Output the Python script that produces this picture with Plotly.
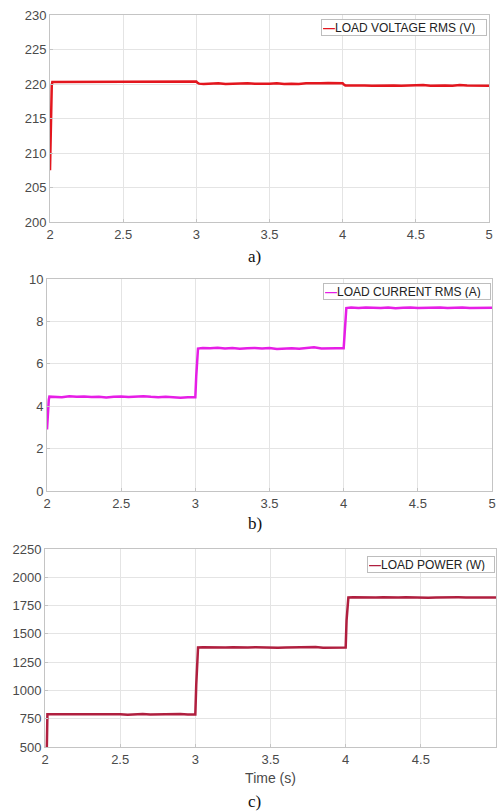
import plotly.graph_objects as go

# ---------------- data ----------------
time_s = [2.000, 2.004, 2.008, 2.012, 2.016, 2.05, 2.10, 2.15, 2.20, 2.25, 2.30, 2.35,
          2.40, 2.45, 2.50, 2.55, 2.60, 2.65, 2.70, 2.75, 2.80, 2.85, 2.90, 2.95,
          3.000, 3.006, 3.012, 3.018, 3.05, 3.10, 3.15, 3.20, 3.25, 3.30, 3.35, 3.40,
          3.45, 3.50, 3.55, 3.60, 3.65, 3.70, 3.75, 3.80, 3.85, 3.90, 3.95,
          4.000, 4.006, 4.012, 4.018, 4.05, 4.10, 4.15, 4.20, 4.25, 4.30, 4.35, 4.40,
          4.45, 4.50, 4.55, 4.60, 4.65, 4.70, 4.75, 4.80, 4.85, 4.90, 4.95, 5.00]

voltage_rms = [207.5, 214.0, 218.0, 219.8, 220.3,
               220.3, 220.4, 220.3, 220.35, 220.4, 220.3, 220.35, 220.3, 220.4, 220.35,
               220.3, 220.35, 220.4, 220.3, 220.35, 220.4, 220.3, 220.35, 220.4,
               220.35, 220.2, 220.1, 220.05,
               220.0, 220.05, 220.1, 220.0, 220.05, 220.0, 220.1, 220.05, 220.0, 220.05,
               220.1, 220.0, 220.05, 220.0, 220.1, 220.05, 220.1, 220.15, 220.1,
               220.1, 219.95, 219.85, 219.8,
               219.8, 219.85, 219.8, 219.75, 219.8, 219.85, 219.8, 219.75, 219.8, 219.8,
               219.85, 219.75, 219.8, 219.8, 219.75, 219.85, 219.8, 219.75, 219.8, 219.75]

current_rms = [2.9, 3.7, 4.05, 4.3, 4.45,
               4.45, 4.42, 4.47, 4.44, 4.46, 4.43, 4.45, 4.41, 4.44, 4.46,
               4.43, 4.45, 4.47, 4.44, 4.42, 4.45, 4.43, 4.40, 4.42,
               4.42, 5.4, 6.3, 6.72,
               6.75, 6.73, 6.76, 6.72, 6.74, 6.71, 6.73, 6.75, 6.72, 6.74,
               6.70, 6.72, 6.73, 6.71, 6.74, 6.78, 6.72, 6.74, 6.73,
               6.73, 7.6, 8.3, 8.63,
               8.65, 8.63, 8.66, 8.64, 8.63, 8.65, 8.62, 8.64, 8.66, 8.63,
               8.64, 8.62, 8.65, 8.63, 8.64, 8.66, 8.63, 8.64, 8.65, 8.64]

power_w = [200, 300, 400, 480, 790,
           790, 788, 792, 789, 791, 787, 790, 793, 788, 790,
           786, 789, 791, 788, 790, 787, 789, 791, 788,
           788, 1050, 1280, 1380,
           1382, 1380, 1383, 1379, 1381, 1378, 1380, 1382, 1379, 1381,
           1377, 1380, 1382, 1379, 1381, 1383, 1378, 1380, 1381,
           1380, 1620, 1760, 1822,
           1824, 1822, 1825, 1821, 1823, 1820, 1822, 1824, 1821, 1823,
           1820, 1822, 1824, 1821, 1823, 1822, 1820, 1823, 1822, 1821]

x_ticks = [2, 2.5, 3, 3.5, 4, 4.5, 5]
x_ticklabels = ["2", "2.5", "3", "3.5", "4", "4.5", "5"]
v_ticks = [200, 205, 210, 215, 220, 225, 230]
i_ticks = [0, 2, 4, 6, 8, 10]
p_ticks = [500, 750, 1000, 1250, 1500, 1750, 2000, 2250]

names = ["LOAD VOLTAGE RMS (V)", "LOAD CURRENT RMS (A)", "LOAD POWER (W)"]
captions = ["a)", "b)", "c)"]

# ---------------- layout geometry ----------------
W, H = 497, 812
panels = [  # (left px, right px, top px, bottom px)
    (50, 489, 15, 222),
    (47, 492, 279, 491),
    (45, 496, 549, 747),
]
colors = ["#e3161e", "#e61ee6", "#b01f3f"]
series = [voltage_rms, current_rms, power_w]
yranges = [[200, 230], [0, 10], [500, 2250]]
yticks = [v_ticks, i_ticks, p_ticks]
# legend boxes: (left, right, top) in px
legend_box = [(321, 487, 19), (323, 491, 283), (367, 495, 556)]
caption_y = [256, 523, 801]

fig = go.Figure()
sans = "Liberation Sans, Arial, sans-serif"
tick_font = dict(family=sans, size=13, color="#4a4a4a")

for k in range(3):
    suffix = "" if k == 0 else str(k + 1)
    fig.add_trace(go.Scatter(
        x=time_s, y=series[k], mode="lines", name=names[k],
        line=dict(color=colors[k], width=2.5),
        xaxis="x" + suffix, yaxis="y" + suffix,
        showlegend=False,
    ))
    l, r, t, b = panels[k]
    axis_common = dict(
        showline=True, mirror=True, linecolor="#c4c4c4", linewidth=1,
        showgrid=True, gridcolor="#e4e4e4", gridwidth=1,
        zeroline=False, ticks="inside", ticklen=3, tickcolor="#c4c4c4",
        tickfont=tick_font, automargin=False,
    )
    xa = dict(axis_common, domain=[l / W, r / W], range=[2, 5],
              tickvals=x_ticks, ticktext=x_ticklabels,
              anchor="y" + suffix)
    if k == 2:
        xa["title"] = dict(text="Time (s)", standoff=7,
                           font=dict(family=sans, size=14, color="#4a4a4a"))
    ya = dict(axis_common, domain=[1 - b / H, 1 - t / H], range=yranges[k],
              tickvals=yticks[k], anchor="x" + suffix)
    fig.update_layout({"xaxis" + suffix: xa, "yaxis" + suffix: ya})

    # legend box for this panel
    bl, br, bt = legend_box[k]
    fig.add_annotation(
        text='<span style="color:%s"><b>—</b></span>%s' % (colors[k], names[k]),
        x=br / W, y=1 - bt / H, xref="paper", yref="paper",
        xanchor="right", yanchor="top", showarrow=False,
        width=br - bl - 4, height=13, align="left", valign="middle",
        bgcolor="white", bordercolor="#bdbdbd", borderwidth=1, borderpad=1,
        font=dict(family=sans, size=12, color="#222222"),
    )

    fig.add_annotation(
        text=captions[k], x=0.513, y=1 - caption_y[k] / H, xref="paper", yref="paper",
        showarrow=False, xanchor="center", yanchor="middle",
        font=dict(family="Liberation Serif, Times New Roman, serif", size=17, color="#111111"),
    )

fig.update_layout(
    width=W, height=H,
    margin=dict(l=0, r=0, t=0, b=0, autoexpand=False),
    paper_bgcolor="white", plot_bgcolor="white",
    showlegend=False,
)

fig.write_html("out.html", config={"displayModeBar": False},
               post_script="document.body.style.margin='0';document.body.style.overflow='hidden';")
